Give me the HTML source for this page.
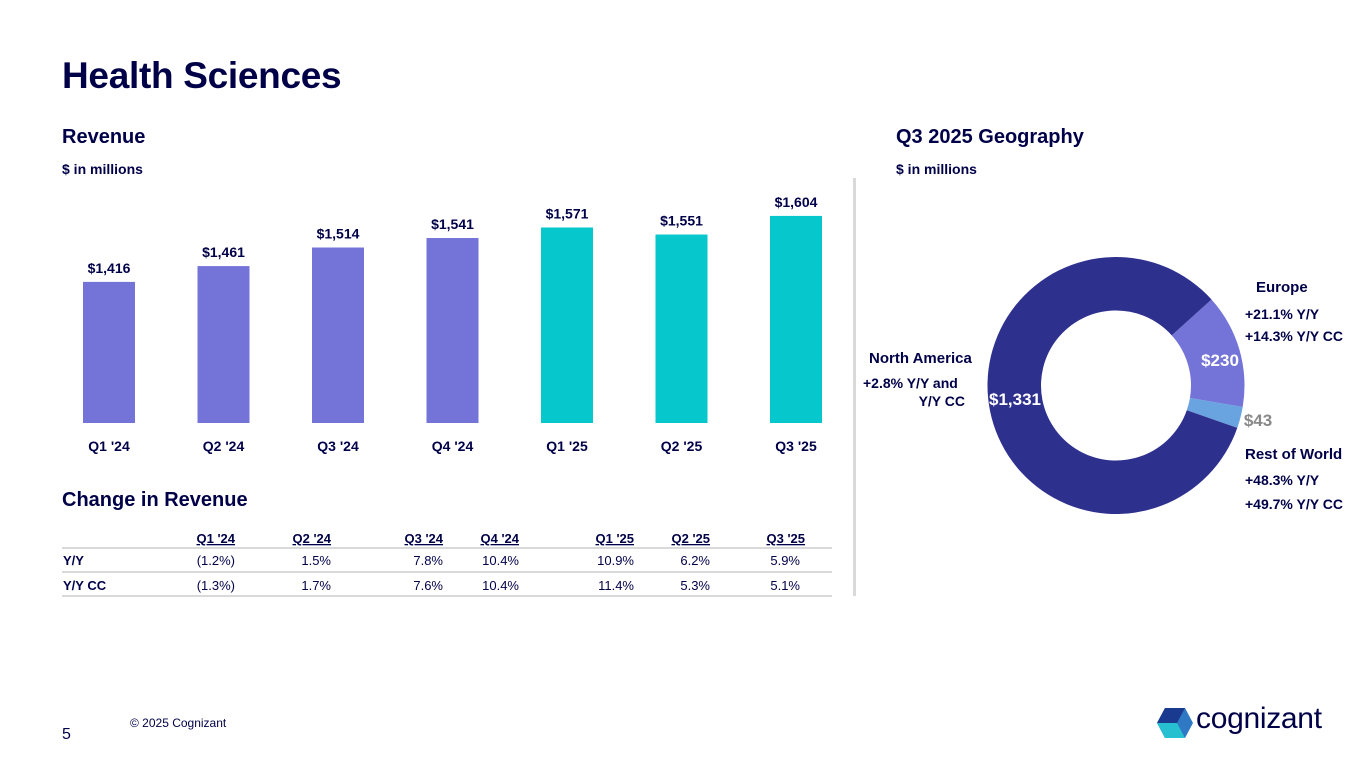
<!DOCTYPE html>
<html><head><meta charset="utf-8"><style>
body{margin:0;width:1365px;height:768px;background:#fff;font-family:"Liberation Sans",sans-serif;color:#000048;position:relative;overflow:hidden}
.a{position:absolute;white-space:nowrap}
</style></head><body>
<div class="a" style="left:62px;top:55px;font-size:37px;font-weight:bold;letter-spacing:-0.3px">Health Sciences</div>
<div class="a" style="left:62px;top:126px;font-size:20px;font-weight:bold">Revenue</div>
<div class="a" style="left:62px;top:161px;font-size:14px;font-weight:bold">$ in millions</div>
<div class="a" style="left:896px;top:126px;font-size:20px;font-weight:bold">Q3 2025 Geography</div>
<div class="a" style="left:896px;top:161px;font-size:14px;font-weight:bold">$ in millions</div>
<div class="a" style="left:853px;top:178px;width:3px;height:418px;background:#d9d9d9"></div>
<div class="a" style="left:62px;top:489px;font-size:20px;font-weight:bold">Change in Revenue</div>

<svg class="a" style="left:0;top:0" width="1365" height="768">
<g id="bars"></g>
<g id="donut"></g>
<g id="table"></g>
</svg>

<div class="a" style="left:62px;top:726px;font-size:16px">5</div>
<div class="a" style="left:130px;top:716px;font-size:12px">© 2025 Cognizant</div>
<div class="a" style="left:1155px;top:706px;">
<svg width="40" height="34" style="position:absolute;left:0;top:0"><polygon points="10,2 30,2 38,17 30,32 10,32 2,17" fill="#2f78c4"/><polygon points="10,2 30,2 22,17 2,17" fill="#1a3a8f"/><polygon points="2,17 22,17 30,32 10,32" fill="#26c0d0"/></svg>
<span class="a" style="left:41px;top:-4px;font-size:30px;color:#000048;letter-spacing:-0.3px">cognizant</span></div>

<script>
const ns="http://www.w3.org/2000/svg";
const categories=["Q1 '24","Q2 '24","Q3 '24","Q4 '24","Q1 '25","Q2 '25","Q3 '25"];
const revenue=[1416,1461,1514,1541,1571,1551,1604];
const revenueLabels=["$1,416","$1,461","$1,514","$1,541","$1,571","$1,551","$1,604"];
const yoy=["(1.2%)","1.5%","7.8%","10.4%","10.9%","6.2%","5.9%"];
const yoyCC=["(1.3%)","1.7%","7.6%","10.4%","11.4%","5.3%","5.1%"];
const geoNames=["Europe","Rest of World","North America"];
const geoValues=[230,43,1331];
const geoLabels=["$230","$43","$1,331"];

function el(t,a,p,txt){const e=document.createElementNS(ns,t);for(const k in a)e.setAttribute(k,a[k]);if(txt!==undefined)e.textContent=txt;p.appendChild(e);return e;}
const base=423,yMin=1014,k=0.351;
const y=v=>base-(v-yMin)*k;
const x=i=>109+i*114.5;
const bars=document.getElementById('bars');
revenue.forEach((v,i)=>{
 const r=el('rect',{x:x(i)-26,y:y(v),width:52,height:base-y(v),fill:i<4?'#7373d8':'#06c7cc'},bars);
 
 
 const t=el('text',{x:x(i),y:y(v)-9,'text-anchor':'middle','font-size':14,'font-weight':'bold',fill:'#000048'},bars,revenueLabels[i]);
 
 
 const c=el('text',{x:x(i),y:451,'text-anchor':'middle','font-size':14,'font-weight':'bold',fill:'#000048'},bars,categories[i]);
 
 
});
const dn=document.getElementById('donut');
const cx=1116,cy=385.5,R=128.5,r0=75,total=geoValues.reduce((a,b)=>a+b,0);
const cols=['#7373d8','#69a3e0','#2e308e'];
let ang=48;
function pt(a,rad){const t=(a-90)*Math.PI/180;return[cx+rad*Math.cos(t),cy+rad*Math.sin(t)];}
geoValues.forEach((v,i)=>{
 const sw=v/total*360,a1=ang+sw,lg=sw>180?1:0;
 const [x1,y1]=pt(ang,R),[x2,y2]=pt(a1,R),[x3,y3]=pt(a1,r0),[x4,y4]=pt(ang,r0);
 const p=el('path',{d:`M${x1},${y1}A${R},${R} 0 ${lg} 1 ${x2},${y2}L${x3},${y3}A${r0},${r0} 0 ${lg} 0 ${x4},${y4}Z`,fill:cols[i]},dn);
 
 
 ang=a1;
});
const lbl=[[1220,366,'#fff','middle'],[1258,426,'#888','middle'],[1015,405,'#fff','middle']];
geoLabels.forEach((s,i)=>{
 const t=el('text',{x:lbl[i][0],y:lbl[i][1],'text-anchor':lbl[i][3],'font-size':17,'font-weight':'bold',fill:lbl[i][2]},dn,s);
 
 
});
const ann=[[1256,292,'Europe',15,'start'],[1245,319,'+21.1%  Y/Y',14,'start'],[1245,341,'+14.3%  Y/Y CC',14,'start'],
[869,363,'North America',15,'start'],[863,388,'+2.8%  Y/Y and',14,'start'],[965,406,'Y/Y CC',14,'end'],
[1245,459,'Rest of World',15,'start'],[1245,485,'+48.3% Y/Y',14,'start'],[1245,509,'+49.7% Y/Y CC',14,'start']];
ann.forEach(a=>{const t=el('text',{x:a[0],y:a[1],'font-size':a[3],'font-weight':'bold','text-anchor':a[4],fill:'#000048'},dn,a[2]);
 
 });
const tb=document.getElementById('table');
const colR=[235,331,443,519,634,710,805];
categories.forEach((c,i)=>{const t=el('text',{x:colR[i],y:543,'text-anchor':'end','font-size':13,'font-weight':'bold','text-decoration':'underline',fill:'#000048'},tb,c);
 
 });
[548,572,596].forEach(l=>el('line',{x1:62,x2:832,y1:l,y2:l,stroke:'#d9d9d9','stroke-width':2},tb));
[['Y/Y',yoy,565],['Y/Y CC',yoyCC,590]].forEach(r=>{
 el('text',{x:63,y:r[2],'font-size':13,'font-weight':'bold',fill:'#000048'},tb,r[0]);
 r[1].forEach((v,i)=>{const t=el('text',{x:i==6?800:colR[i],y:r[2],'text-anchor':'end','font-size':13,fill:'#000048'},tb,v);
  
  });
});
</script>
</body></html>
